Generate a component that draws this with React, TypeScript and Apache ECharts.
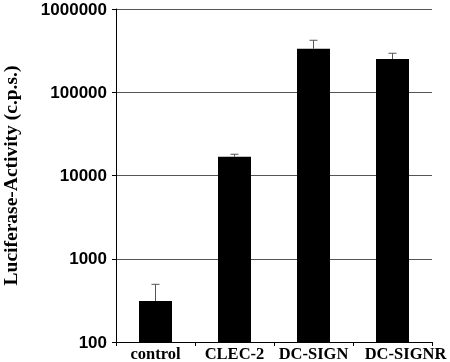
import React, { useEffect, useRef } from "react";
import * as echarts from "echarts";

const categories = ["control", "CLEC-2", "DC-SIGN", "DC-SIGNR"];
const values = [311, 16800, 333000, 251000];
const errorHigh = [493, 18000, 421000, 294000];
const yTicks = [100, 1000, 10000, 100000, 1000000];

export default function App() {
  const ref = useRef<HTMLDivElement>(null);
  useEffect(() => {
    if (!ref.current) return;
    const chart = echarts.init(ref.current, undefined, { renderer: "svg" });
    chart.setOption({
      animation: false,
      grid: {
        left: 116,
        right: 18,
        top: 9,
        bottom: 20,
        containLabel: false,
        outerBoundsMode: "none",
      },
      xAxis: {
        type: "category",
        data: categories.map((c, i) =>
          i === categories.length - 1
            ? { value: c, textStyle: { padding: [0, 0, 0, 26] } }
            : c
        ),
        boundaryGap: true,
        axisLine: { lineStyle: { color: "#000", width: 1 } },
        axisTick: { show: true, inside: false, length: 4, lineStyle: { color: "#000" } },
        axisLabel: {
          interval: 0,
          color: "#000",
          fontFamily: "Liberation Serif",
          fontWeight: "bold",
          fontSize: 16.5,
          lineHeight: 15,
          margin: 4,
        },
      },
      yAxis: {
        type: "log",
        logBase: 10,
        min: yTicks[0],
        max: yTicks[yTicks.length - 1],
        name: "Luciferase-Activity (c.p.s.)",
        nameLocation: "middle",
        nameGap: 96,
        nameTextStyle: {
          color: "#000",
          fontFamily: "Liberation Serif",
          fontWeight: "bold",
          fontSize: 19.5,
        },
        axisLine: { show: true, lineStyle: { color: "#000", width: 1 } },
        axisTick: { show: true, inside: false, length: 4, lineStyle: { color: "#000" } },
        minorTick: { show: false },
        splitLine: { show: true, lineStyle: { color: "#555", width: 1 } },
        axisLabel: {
          color: "#000",
          fontFamily: "Liberation Sans",
          fontWeight: "bold",
          fontSize: 17,
          margin: 9,
          formatter: (v: number) => String(Math.round(v)),
        },
      },
      series: [
        {
          type: "bar",
          data: values,
          barWidth: 33,
          itemStyle: { color: "#000" },
        },
        {
          type: "custom",
          data: values.map((v, i) => [i, v, errorHigh[i]]),
          z: 5,
          renderItem: (params: any, api: any) => {
            const i = api.value(0);
            const base = api.coord([i, api.value(1)]);
            const top = api.coord([i, api.value(2)]);
            const half = 4;
            const style = { stroke: "#555", lineWidth: 1 };
            return {
              type: "group",
              children: [
                { type: "line", shape: { x1: base[0], y1: base[1], x2: top[0], y2: top[1] }, style },
                { type: "line", shape: { x1: top[0] - half, y1: top[1], x2: top[0] + half, y2: top[1] }, style },
              ],
            };
          },
        },
      ],
    });
    return () => chart.dispose();
  }, []);
  return (
    <div
      ref={ref}
      style={{ position: "fixed", left: 0, top: 0, width: 450, height: 362 }}
    />
  );
}
